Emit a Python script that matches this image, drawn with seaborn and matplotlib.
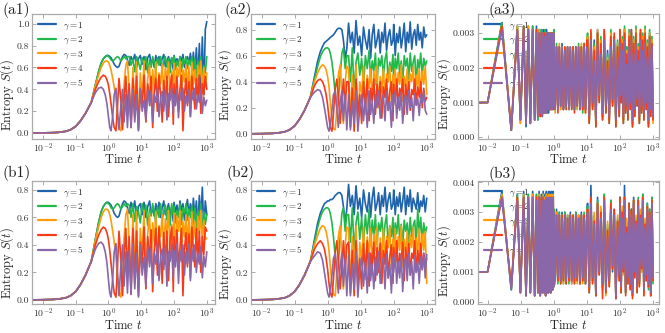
import numpy as np
import pandas as pd
import matplotlib
matplotlib.use("Agg")
import matplotlib.pyplot as plt
from matplotlib.lines import Line2D
from matplotlib.ticker import NullLocator, FixedLocator, FormatStrFormatter
import seaborn as sns

# ---------------- data ----------------
LABELS = [r"$\gamma = 1$", r"$\gamma = 2$", r"$\gamma = 3$", r"$\gamma = 4$", r"$\gamma = 5$"]
COLORS = ["#1f63ad", "#22b94a", "#ff9c0a", "#f83a17", "#8a67a8"]

# time grids for panels (1) and (2)
T_RISE = [0.005, 0.01, 0.02, 0.03, 0.05, 0.07, 0.1, 0.14, 0.2, 0.3]
T_MID = [0.4, 0.5, 0.6, 0.7, 0.8, 0.9, 1.0, 1.1, 1.2, 1.35, 1.5, 1.7, 1.9, 2.1, 2.4, 2.7, 3.0, 3.4, 3.8]
T_NOISY = np.concatenate([np.geomspace(4.3, 18, 12), np.geomspace(20, 95, 15), np.geomspace(100, 1000, 23)])

# entropy values in units of 0.01 (panels 1 and 2)
S_RISE = [0, 0.1, 0.3, 0.6, 1.5, 3, 6, 11, 18, 28]

A1_MID = [
    [44, 56, 64, 68, 70, 71, 71, 70, 69, 66, 63, 61, 60, 61, 66, 70, 72, 71, 67],
    [44, 56, 64, 68, 70, 71, 70, 69, 67, 66, 67, 69, 70, 69, 66, 68, 70, 68, 70],
    [43, 53, 60, 64, 66, 66, 65, 62, 58, 50, 42, 30, 15, 6, 2, 20, 45, 62, 66],
    [40, 47, 51, 53, 52, 49, 44, 36, 27, 14, 5, 2, 25, 50, 30, 3, 30, 52, 20],
    [37, 41, 42, 40, 35, 27, 15, 5, 2, 15, 35, 41, 20, 3, 25, 40, 10, 35, 5],
]
A1_NOISY = [
    [62, 70, 66, 72, 60, 68, 71, 63, 70, 58,
     69, 72, 64, 67, 60, 71, 65, 70, 62, 68,
     72, 61, 66, 70, 63, 69, 58, 71, 65, 68,
     62, 70, 66, 72, 60, 67, 70, 64, 73, 58,
     74, 55, 78, 48, 82, 40, 88, 35, 95, 102],
    [70, 62, 68, 56, 70, 65, 58, 69, 63, 70,
     55, 67, 60, 70, 64, 57, 69, 62, 70, 58,
     66, 70, 60, 68, 55, 69, 63, 70, 58, 66,
     61, 70, 56, 68, 64, 70, 59, 67, 62, 70,
     57, 68, 50, 66, 60, 70, 45, 62, 55, 70],
    [40, 10, 60, 20, 65, 5, 55, 30, 66, 15,
     50, 62, 25, 58, 40, 65, 20, 55, 45, 63,
     35, 60, 50, 65, 30, 57, 45, 64, 38, 60,
     52, 66, 33, 58, 47, 63, 40, 61, 30, 65,
     45, 58, 35, 62, 50, 66, 38, 60, 42, 55],
    [45, 5, 50, 15, 52, 3, 40, 25, 53, 10,
     45, 30, 52, 5, 38, 50, 20, 53, 35, 10,
     48, 28, 52, 15, 42, 53, 8, 45, 30, 52,
     20, 40, 53, 2, 35, 50, 25, 47, 15, 52,
     38, 22, 50, 30, 53, 18, 45, 35, 52, 40],
    [38, 5, 40, 10, 35, 2, 41, 20, 30, 12,
     40, 25, 38, 10, 35, 28, 41, 15, 33, 38,
     20, 40, 12, 36, 30, 41, 18, 35, 25, 40,
     14, 37, 30, 41, 20, 34, 27, 40, 15, 38,
     30, 41, 22, 35, 28, 40, 18, 33, 25, 30],
]

B1_MID = A1_MID
B1_NOISY = [
    [63, 71, 65, 72, 59, 68, 70, 62, 71, 60,
     68, 72, 63, 66, 61, 70, 64, 71, 60, 67,
     72, 62, 65, 70, 61, 68, 57, 71, 64, 69,
     60, 72, 65, 70, 58, 67, 73, 62, 70, 56,
     74, 60, 72, 52, 76, 58, 82, 50, 72, 62],
    [69, 60, 70, 57, 68, 64, 56, 70, 62, 69,
     54, 66, 61, 70, 63, 56, 68, 60, 70, 57,
     65, 69, 58, 67, 54, 70, 62, 68, 56, 65,
     60, 70, 55, 67, 63, 70, 58, 66, 60, 69,
     55, 67, 52, 65, 58, 70, 48, 64, 55, 62],
    [42, 8, 62, 18, 64, 6, 52, 32, 65, 14,
     48, 63, 27, 56, 42, 64, 22, 54, 46, 62,
     36, 59, 48, 65, 32, 55, 44, 63, 36, 61,
     50, 65, 34, 57, 46, 62, 40, 60, 32, 64,
     44, 57, 36, 61, 48, 65, 40, 58, 44, 45],
    [46, 4, 52, 12, 50, 3, 42, 24, 53, 8,
     46, 28, 51, 6, 36, 52, 18, 53, 34, 12,
     49, 26, 50, 14, 44, 53, 6, 46, 28, 51,
     22, 38, 52, 3, 36, 49, 24, 48, 16, 53,
     36, 24, 52, 28, 50, 20, 46, 33, 53, 50],
    [36, 4, 41, 8, 34, 2, 40, 18, 31, 10,
     39, 24, 37, 12, 34, 26, 41, 14, 32, 37,
     22, 39, 10, 35, 28, 40, 16, 36, 24, 41,
     12, 36, 28, 40, 18, 35, 26, 41, 14, 37,
     28, 40, 20, 34, 26, 39, 16, 32, 24, 35],
]

A2_MID = [
    [44, 56, 63, 67, 70, 71, 72, 73, 74, 75, 76, 78, 80, 81, 81, 80, 72, 58, 65],
    [42, 52, 59, 63, 65, 66, 66, 65, 62, 55, 45, 30, 20, 25, 45, 62, 66, 50, 60],
    [40, 47, 51, 53, 52, 49, 44, 36, 25, 12, 4, 3, 20, 45, 53, 30, 8, 40, 52],
    [37, 41, 42, 40, 36, 30, 22, 12, 5, 2, 15, 35, 42, 30, 8, 25, 42, 20, 40],
    [32, 34, 33, 28, 20, 12, 5, 2, 6, 18, 30, 33, 20, 5, 25, 33, 10, 30, 3],
]
A2_NOISY = [
    [85, 70, 78, 62, 87, 68, 75, 60, 82, 72,
     65, 80, 58, 76, 84, 66, 72, 80, 62, 78,
     70, 85, 64, 75, 80, 68, 72, 84, 60, 77,
     70, 82, 66, 74, 85, 63, 78, 70, 86, 65,
     76, 80, 68, 84, 72, 78, 66, 82, 74, 76],
    [60, 40, 66, 30, 55, 62, 45, 58, 35, 60,
     50, 64, 42, 56, 48, 62, 38, 58, 52, 60,
     44, 57, 63, 40, 55, 48, 61, 36, 58, 50,
     62, 45, 56, 40, 60, 52, 58, 42, 62, 48,
     55, 60, 38, 57, 50, 62, 44, 58, 52, 56],
    [50, 10, 45, 20, 53, 5, 40, 30, 52, 15,
     45, 35, 50, 25, 48, 38, 52, 20, 44, 32,
     50, 28, 46, 40, 52, 22, 45, 35, 50, 30,
     47, 38, 53, 25, 44, 36, 50, 30, 46, 40,
     52, 28, 45, 35, 50, 32, 48, 38, 52, 30],
    [40, 5, 35, 2, 42, 15, 30, 8, 40, 20,
     42, 10, 35, 25, 42, 15, 38, 22, 40, 12,
     36, 28, 42, 18, 33, 40, 10, 38, 25, 42,
     20, 35, 30, 42, 15, 38, 26, 40, 18, 34,
     30, 42, 22, 36, 28, 40, 20, 35, 25, 28],
    [30, 3, 25, 8, 33, 2, 20, 30, 10, 28,
     5, 33, 15, 25, 8, 30, 20, 33, 12, 26,
     30, 10, 32, 18, 25, 5, 30, 22, 33, 12,
     28, 18, 32, 8, 26, 30, 15, 33, 20, 28,
     10, 31, 22, 27, 14, 30, 24, 33, 18, 15],
]

B2_MID = [
    [44, 56, 63, 67, 70, 71, 72, 72, 73, 73, 74, 76, 77, 78, 78, 76, 68, 56, 66],
    [42, 53, 60, 64, 66, 67, 67, 66, 63, 56, 46, 31, 20, 26, 46, 63, 67, 50, 62],
    [40, 47, 52, 54, 53, 50, 44, 36, 25, 12, 4, 3, 21, 46, 54, 30, 8, 40, 53],
    [37, 41, 43, 41, 37, 30, 22, 12, 5, 2, 15, 35, 43, 30, 8, 25, 43, 20, 40],
    [32, 35, 34, 29, 20, 12, 5, 2, 6, 18, 30, 34, 20, 5, 25, 34, 10, 30, 3],
]
B2_NOISY = [
    [84, 68, 76, 62, 83, 66, 74, 60, 80, 70,
     64, 78, 60, 74, 82, 65, 70, 78, 62, 76,
     68, 82, 64, 73, 78, 66, 70, 80, 62, 75,
     68, 78, 64, 72, 82, 62, 76, 68, 80, 64,
     74, 70, 66, 78, 64, 72, 68, 76, 64, 74],
    [62, 42, 67, 35, 56, 64, 44, 60, 38, 62,
     48, 66, 40, 58, 46, 62, 40, 56, 50, 60,
     42, 55, 62, 38, 54, 46, 60, 38, 56, 48,
     62, 44, 55, 40, 58, 50, 56, 42, 60, 46,
     54, 58, 40, 66, 48, 60, 42, 56, 48, 53],
    [52, 10, 46, 22, 54, 6, 42, 28, 53, 15,
     46, 34, 52, 24, 48, 36, 53, 20, 45, 30,
     52, 26, 46, 38, 54, 22, 44, 34, 52, 28,
     46, 36, 54, 24, 44, 34, 50, 28, 47, 38,
     53, 26, 45, 34, 52, 30, 48, 36, 50, 12],
    [42, 5, 36, 3, 43, 14, 30, 8, 41, 18,
     43, 10, 34, 24, 42, 14, 38, 20, 41, 12,
     36, 26, 43, 16, 32, 40, 12, 38, 24, 43,
     20, 34, 28, 42, 14, 38, 24, 41, 18, 34,
     30, 43, 20, 36, 26, 41, 22, 34, 26, 30],
    [32, 3, 26, 8, 35, 2, 22, 31, 10, 28,
     5, 34, 14, 26, 8, 31, 18, 35, 12, 27,
     31, 8, 33, 16, 26, 5, 31, 20, 34, 12,
     28, 16, 33, 6, 26, 31, 14, 34, 18, 28,
     8, 32, 20, 28, 12, 31, 22, 34, 16, 33],
]

# time grids for panels (3)
T3_EARLY = [0.005, 0.01, 0.027, 0.052, 0.079, 0.098, 0.123, 0.145, 0.17, 0.196,
            0.23, 0.265, 0.30, 0.33, 0.36, 0.39, 0.42, 0.45, 0.48, 0.51,
            0.54, 0.57, 0.60, 0.63, 0.66, 0.69, 0.72, 0.75, 0.78, 0.81,
            0.84, 0.87, 0.90, 0.93, 0.96, 0.99]
T3_MID = np.geomspace(1.0, 10.0, 25)
T3_LATE = np.concatenate([np.geomspace(10.5, 95, 20), np.geomspace(100, 1000, 30)])

# entropy values in units of 1e-4 (panels 3)
A3_EARLY = [
    [10, 10, 33, 2, 32, 5, 32, 3, 32, 4, 32, 5, 32, 5, 31, 6, 31, 6, 31, 7,
     30, 7, 31, 8, 30, 7, 30, 8, 30, 8, 30, 9, 30, 8, 30, 9],
    [10, 10, 33, 2, 32, 4, 32, 4, 32, 4, 32, 5, 31, 5, 31, 6, 31, 6, 30, 7,
     31, 7, 30, 7, 30, 8, 30, 8, 30, 8, 29, 8, 30, 9, 29, 9],
    [10, 10, 32, 3, 32, 4, 31, 4, 32, 5, 31, 5, 31, 6, 31, 6, 30, 7, 30, 7,
     30, 7, 30, 8, 29, 8, 30, 8, 29, 8, 30, 9, 29, 9, 30, 9],
    [10, 10, 32, 2, 31, 5, 32, 4, 31, 4, 31, 5, 31, 6, 30, 6, 30, 7, 30, 7,
     30, 8, 29, 7, 30, 8, 29, 9, 30, 8, 29, 9, 30, 8, 29, 9],
    [10, 10, 31, 2, 31, 5, 31, 4, 31, 4, 31, 5, 30, 6, 30, 7, 30, 6, 30, 7,
     29, 7, 30, 8, 29, 8, 30, 8, 29, 9, 30, 8, 29, 9, 30, 9],
]
A3_MID = [
    [30, 8, 26, 8, 26, 9, 27, 8, 25, 9, 26, 8, 26, 9, 26, 8, 26, 9, 26, 8, 26, 8, 26, 8, 27],
    [31, 8, 27, 8, 26, 8, 26, 8, 26, 9, 26, 8, 25, 8, 26, 9, 26, 8, 27, 8, 26, 7, 27, 8, 27],
    [30, 7, 26, 8, 27, 8, 26, 9, 26, 8, 25, 8, 26, 9, 26, 8, 25, 8, 26, 9, 27, 8, 26, 7, 28],
    [29, 8, 26, 7, 26, 9, 25, 8, 26, 8, 26, 9, 25, 8, 26, 7, 26, 9, 25, 8, 26, 8, 27, 7, 28],
    [30, 8, 26, 8, 26, 9, 26, 8, 25, 9, 26, 8, 26, 9, 25, 8, 26, 9, 26, 8, 25, 9, 26, 8, 26],
]
A3_LATE = [
    [29, 5, 30, 9, 28, 4, 31, 11, 28, 6, 30, 8, 25, 5, 30, 10, 29, 4, 27, 7,
     30, 10, 28, 5, 31, 8, 26, 6, 30, 9, 31, 4, 28, 7, 31, 10, 26, 5, 30, 8,
     29, 6, 31, 9, 27, 4, 30, 7, 28, 6],
    [30, 4, 29, 8, 27, 3, 30, 10, 29, 5, 31, 7, 24, 4, 31, 9, 28, 3, 28, 6,
     31, 10, 29, 4, 32, 7, 26, 5, 31, 8, 30, 3, 29, 6, 32, 9, 27, 4, 31, 7,
     30, 5, 32, 8, 28, 3, 31, 6, 29, 5],
    [29, 5, 30, 9, 26, 4, 31, 11, 28, 6, 30, 8, 23, 5, 30, 10, 29, 4, 27, 7,
     30, 11, 28, 5, 31, 8, 25, 6, 30, 9, 29, 4, 28, 7, 31, 10, 26, 5, 30, 8,
     29, 6, 31, 9, 27, 4, 30, 7, 28, 4],
    [28, 4, 31, 8, 25, 3, 30, 10, 27, 5, 31, 7, 22, 4, 29, 9, 30, 3, 26, 6,
     31, 10, 27, 4, 30, 7, 24, 5, 29, 8, 31, 3, 27, 6, 30, 9, 25, 4, 31, 7,
     28, 5, 30, 8, 26, 3, 29, 6, 27, 5],
    [25, 6, 28, 10, 22, 5, 27, 12, 24, 7, 28, 9, 20, 6, 26, 11, 28, 5, 23, 8,
     27, 12, 25, 6, 28, 9, 21, 7, 26, 10, 28, 5, 24, 8, 27, 11, 22, 6, 28, 9,
     25, 7, 27, 10, 23, 5, 28, 8, 26, 6],
]

B3_EARLY = [
    [10, 10, 37, 4, 36, 3, 37, 2, 36, 3, 37, 2, 36, 3, 37, 2, 36, 3, 37, 3,
     36, 2, 37, 3, 36, 3, 37, 4, 36, 3, 37, 4, 36, 4, 37, 5],
    [10, 10, 36, 4, 36, 3, 36, 2, 36, 3, 36, 2, 36, 3, 36, 2, 35, 3, 36, 3,
     35, 2, 36, 3, 35, 3, 36, 4, 35, 3, 36, 4, 35, 4, 36, 5],
    [10, 10, 36, 5, 35, 3, 36, 2, 35, 3, 36, 2, 35, 3, 36, 2, 35, 3, 36, 3,
     35, 2, 36, 3, 35, 3, 36, 4, 35, 3, 36, 4, 35, 4, 36, 5],
    [10, 10, 35, 5, 35, 3, 35, 2, 35, 3, 35, 2, 35, 3, 35, 2, 35, 3, 35, 3,
     34, 2, 35, 3, 34, 3, 35, 4, 34, 3, 35, 4, 34, 4, 35, 5],
    [10, 10, 35, 4, 34, 3, 35, 2, 35, 3, 35, 2, 34, 3, 35, 2, 34, 3, 35, 3,
     34, 2, 35, 3, 34, 3, 35, 4, 34, 3, 35, 4, 34, 4, 35, 5],
]
B3_MID = [
    [31, 6, 31, 7, 30, 6, 30, 7, 30, 6, 29, 7, 30, 6, 29, 7, 30, 7, 29, 6, 30, 7, 29, 6, 30],
    [31, 7, 30, 6, 30, 7, 29, 6, 30, 7, 29, 6, 29, 7, 29, 6, 30, 7, 29, 6, 29, 7, 30, 6, 30],
    [30, 6, 30, 7, 29, 7, 29, 6, 29, 7, 29, 7, 29, 6, 29, 7, 29, 6, 29, 7, 29, 6, 29, 7, 30],
    [30, 7, 29, 7, 29, 6, 29, 7, 29, 6, 28, 7, 29, 7, 29, 6, 29, 7, 28, 6, 29, 7, 29, 6, 29],
    [30, 7, 29, 8, 29, 7, 28, 8, 29, 7, 28, 8, 29, 7, 28, 8, 29, 8, 28, 7, 29, 8, 28, 7, 29],
]
B3_LATE = [
    [33, 4, 39, 7, 29, 2, 35, 9, 30, 5, 36, 3, 25, 6, 34, 10, 31, 1, 27, 8,
     35, 4, 30, 10, 39, 3, 26, 7, 33, 5, 31, 2, 35, 9, 28, 4, 34, 6, 30, 11,
     36, 3, 27, 8, 33, 5, 31, 2, 35, 7],
    [32, 3, 35, 7, 28, 2, 34, 10, 31, 4, 36, 3, 26, 6, 34, 11, 30, 2, 28, 8,
     35, 3, 31, 10, 35, 3, 27, 6, 33, 5, 31, 2, 34, 9, 28, 3, 35, 6, 30, 10,
     36, 3, 27, 7, 33, 4, 31, 2, 35, 6],
    [31, 4, 34, 6, 30, 3, 33, 9, 32, 5, 35, 2, 27, 5, 33, 11, 30, 3, 29, 7,
     34, 3, 32, 9, 34, 4, 28, 6, 32, 4, 30, 3, 34, 8, 29, 4, 33, 5, 31, 10,
     35, 2, 28, 7, 32, 5, 30, 3, 34, 7],
    [31, 3, 35, 6, 27, 2, 33, 9, 30, 1, 35, 3, 24, 5, 33, 11, 31, 1, 27, 7,
     35, 3, 30, 10, 35, 2, 25, 6, 33, 4, 31, 1, 34, 8, 27, 3, 34, 5, 29, 11,
     35, 2, 26, 7, 32, 5, 30, 2, 34, 7],
    [30, 5, 33, 8, 26, 3, 32, 10, 28, 6, 34, 4, 22, 7, 31, 12, 29, 2, 25, 9,
     33, 5, 28, 11, 34, 4, 23, 8, 31, 6, 29, 3, 33, 10, 26, 5, 32, 7, 28, 12,
     34, 4, 25, 9, 31, 6, 29, 3, 33, 8],
]

PANEL_NAMES = ["(a1)", "(a2)", "(a3)", "(b1)", "(b2)", "(b3)"]

# ---------------- build frames ----------------
def frame_12(mid, noisy):
    t = np.concatenate([T_RISE, T_MID, T_NOISY])
    parts = []
    for lab, m, n in zip(LABELS, mid, noisy):
        s = np.array(S_RISE + list(m) + list(n), dtype=float) * 0.01
        assert len(s) == len(t), (lab, len(s), len(t))
        parts.append(pd.DataFrame({"t": t, "S": s, "gamma": lab}))
    return pd.concat(parts, ignore_index=True)


def frame_3(early, mid, late):
    t = np.concatenate([T3_EARLY, T3_MID, T3_LATE])
    parts = []
    for lab, e, m, l in zip(LABELS, early, mid, late):
        s = np.array(list(e) + list(m) + list(l), dtype=float) * 1e-4
        assert len(s) == len(t), (lab, len(e), len(m), len(l))
        parts.append(pd.DataFrame({"t": t, "S": s, "gamma": lab}))
    return pd.concat(parts, ignore_index=True)


frames = [
    frame_12(A1_MID, A1_NOISY),
    frame_12(A2_MID, A2_NOISY),
    frame_3(A3_EARLY, A3_MID, A3_LATE),
    frame_12(B1_MID, B1_NOISY),
    frame_12(B2_MID, B2_NOISY),
    frame_3(B3_EARLY, B3_MID, B3_LATE),
]

# ---------------- style ----------------
sns.set_theme(style="ticks")
plt.rcParams.update({
    "font.family": "cmr10",
    "mathtext.fontset": "cm",
    "axes.formatter.use_mathtext": True,
    "axes.unicode_minus": False,
    "axes.edgecolor": "#aaaaaa",
    "axes.linewidth": 0.9,
    "xtick.direction": "in",
    "ytick.direction": "in",
    "xtick.top": True,
    "ytick.right": True,
    "xtick.color": "#aaaaaa",
    "ytick.color": "#aaaaaa",
    "xtick.labelcolor": "#333333",
    "ytick.labelcolor": "#333333",
    "xtick.major.size": 3,
    "ytick.major.size": 3,
    "xtick.major.width": 0.7,
    "ytick.major.width": 0.7,
    "xtick.major.pad": 1.5,
    "ytick.major.pad": 2,
    "xtick.labelsize": 7,
    "ytick.labelsize": 7,
    "axes.labelsize": 9,
    "axes.labelcolor": "#222222",
})

W, H = 665, 333
fig = plt.figure(figsize=(6.65, 3.33), dpi=100)

cols = [(32, 215), (251, 435), (478, 659)]
rows = [(14, 139), (181, 304)]
xlims = [(10 ** -2.33, 10 ** 3.25), (10 ** -2.32, 10 ** 3.25), (10 ** -2.29, 10 ** 3.18)]
ylims = [(-0.055, 1.09), (-0.04, 0.92), (-0.00005, 0.00355),
         (-0.03, 0.865), (-0.03, 0.865), (-0.00008, 0.00405)]
yticks = [np.arange(0, 1.01, 0.2), np.arange(0, 0.81, 0.2), [0, 0.001, 0.002, 0.003],
          np.arange(0, 0.81, 0.2), np.arange(0, 0.81, 0.2), [0, 0.001, 0.002, 0.003, 0.004]]
ylabel_xy = [(-0.085, 0.35), (-0.095, 0.43), (-0.14, 0.36),
             (-0.085, 0.33), (-0.095, 0.325), (-0.14, 0.35)]
xlabel_y = [-0.112, -0.118]
label_pos = [(3, 9.5), (225, 9.5), (488, 9.5), (2, 173), (227, 173), (488, 174)]

palette = dict(zip(LABELS, COLORS))

for i, df in enumerate(frames):
    r, c = divmod(i, 3)
    x0, x1 = cols[c]
    y0, y1 = rows[r]
    ax = fig.add_axes([x0 / W, 1 - y1 / H, (x1 - x0) / W, (y1 - y0) / H])
    sns.lineplot(data=df, x="t", y="S", hue="gamma", hue_order=LABELS, palette=palette,
                 estimator=None, sort=False, linewidth=1.2, legend=False, ax=ax)
    ax.set_xscale("log")
    ax.set_xlim(*xlims[c])
    ax.set_ylim(*ylims[i])
    ax.xaxis.set_major_locator(FixedLocator([1e-2, 1e-1, 1, 1e1, 1e2, 1e3]))
    ax.xaxis.set_minor_locator(NullLocator())
    ax.set_yticks(yticks[i])
    ax.yaxis.set_major_formatter(FormatStrFormatter("%.1f" if c < 2 else "%.3f"))
    ax.set_xlabel(r"Time $t$")
    ax.set_ylabel(r"Entropy $S(t)$")
    ax.xaxis.set_label_coords(0.5, xlabel_y[r])
    ax.yaxis.set_label_coords(*ylabel_xy[i])
    for sp in ax.spines.values():
        sp.set_visible(True)
    handles = [Line2D([0], [0], color=col, lw=1.6) for col in COLORS]
    leg = ax.legend(handles, LABELS, loc="upper left", frameon=False, fontsize=6.5,
                    handlelength=2.0, handletextpad=0.7, labelspacing=0.3,
                    borderaxespad=0.3, borderpad=0.4)
    leg.set_zorder(1)
    fig.text(label_pos[i][0] / W, 1 - label_pos[i][1] / H, PANEL_NAMES[i],
             ha="left", va="center", fontsize=11, color="#222222")

fig.savefig("out.png", dpi=100)
